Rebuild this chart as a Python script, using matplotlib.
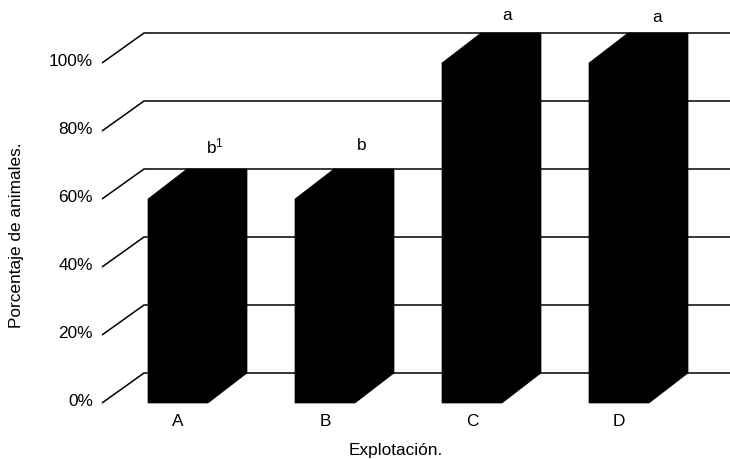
import matplotlib
matplotlib.use('Agg')
import matplotlib.pyplot as plt
from matplotlib.patches import Polygon

categories = ['A', 'B', 'C', 'D']
values = [60, 60, 100, 100]
letters = ['b$^1$', 'b', 'a', 'a']
ticks = [0, 20, 40, 60, 80, 100]

plt.rcParams['font.family'] = ['Liberation Sans', 'DejaVu Sans']
plt.rcParams['mathtext.default'] = 'regular'

W, H = 730, 459
step = 147.0      # px per category
unit = 3.4        # px per percent
x0, y0 = 178, 403 # px of category A, 0%

fig = plt.figure(figsize=(W/100, H/100), dpi=100)
ax = fig.add_axes([0, 0, 1, 1])
ax.set_xlim(-x0/step, (W-x0)/step)
ax.set_ylim(-(H-y0)/unit, y0/unit)
ax.axis('off')

depth_x = 42/step
depth_y = 30/unit
bar_w = 60/step
bar_dx = 39/step
left_end = (102-x0)/step
right_end = (W-x0)/step
fs = 12.4

# walls
for t in ticks:
    ax.plot([left_end, left_end+depth_x, right_end], [t, t+depth_y, t+depth_y],
            color='black', lw=1.1, zorder=1, solid_capstyle='butt')
    ax.text(left_end-9/step, t+2/unit, '%d%%' % t, ha='right', va='center', fontsize=fs)

# bars
for i, v in enumerate(values):
    l, r = i-bar_w/2, i+bar_w/2
    pts = [(l, 0), (r, 0), (r+bar_dx, depth_y), (r+bar_dx, v+depth_y),
           (l+bar_dx, v+depth_y), (l, v)]
    ax.add_patch(Polygon(pts, closed=True, fc='black', ec='black', lw=0.5, zorder=2))
    ax.text(i, -18/unit, categories[i], ha='center', va='center', fontsize=fs)

# letters above bars
letter_off = [(215-178)/step, (362-325)/step, (506-471)/step, (657-619)/step]
letter_up = [23, 23, 18, 16]
for i, v in enumerate(values):
    ax.text(i+letter_off[i], v+depth_y+letter_up[i]/unit, letters[i], ha='center', va='center', fontsize=fs)

ax.text((396-x0)/step, -(450-y0)/unit, 'Explotación.', ha='center', va='center', fontsize=fs)
ax.text((17-x0)/step, (y0-235)/unit, 'Porcentaje de animales.', rotation=90, ha='center', va='center', fontsize=fs)

fig.savefig('out.png', dpi=100)
